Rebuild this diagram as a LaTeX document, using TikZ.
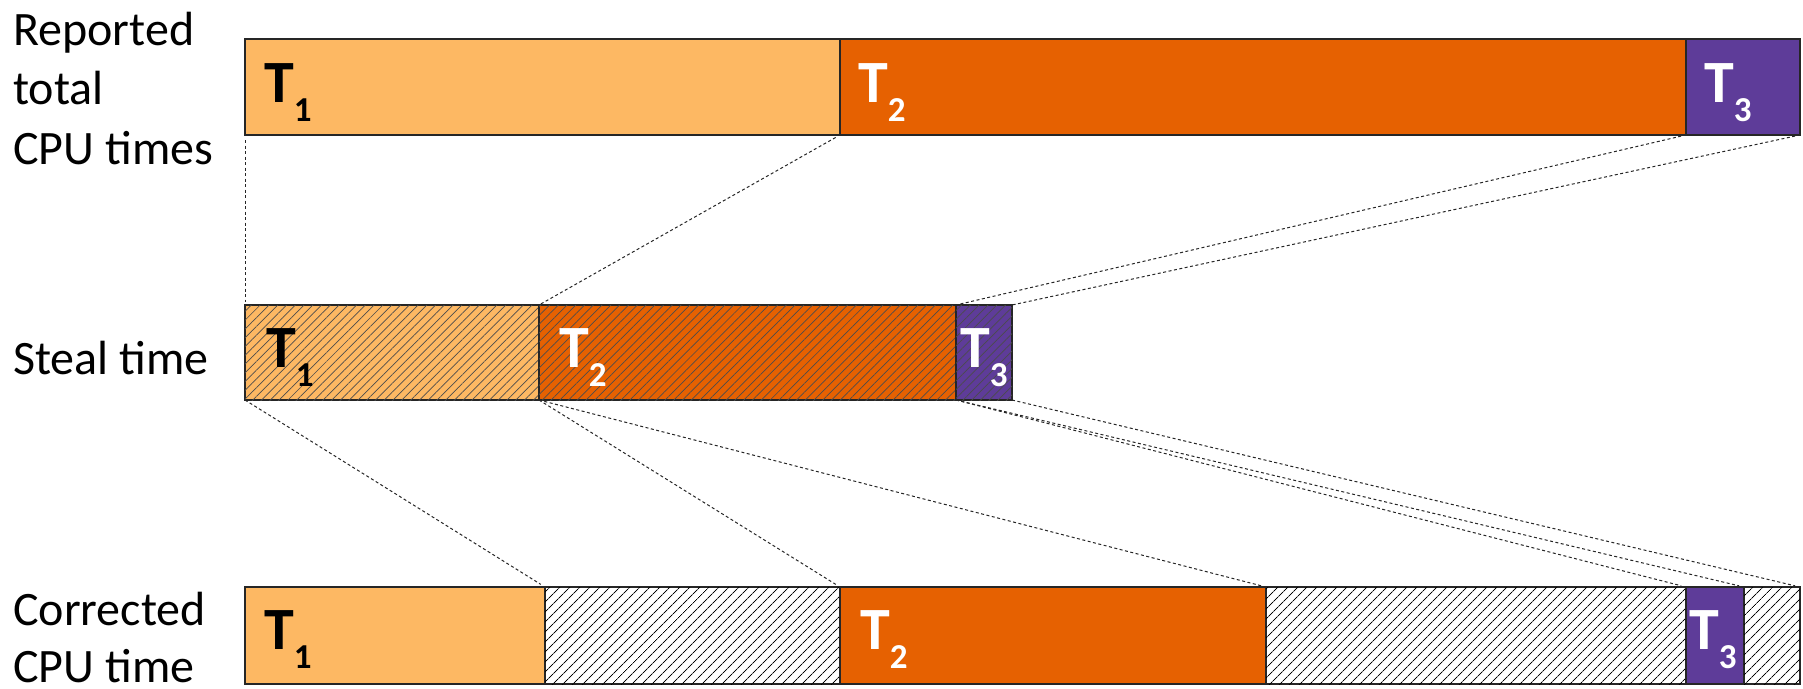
\documentclass[tikz,border=0pt]{standalone}
\usepackage{fontspec}
\setmainfont{Carlito}
\usetikzlibrary{patterns.meta}
\definecolor{cT1}{HTML}{FDB863}
\definecolor{cT2}{HTML}{E66101}
\definecolor{cT3}{HTML}{5E3C99}
\tikzset{
  seg/.style={draw=black!85, line width=1.2pt, anchor=north west, inner sep=0pt, outer sep=0pt},
  stealhatch/.style={postaction={pattern={Lines[angle=45,distance=6.2pt,line width=0.7pt]}, pattern color=black!70}},
  gaphatch/.style={fill=white, postaction={pattern={Lines[angle=45,distance=7.4pt,line width=1pt]}, pattern color=black}},
  tlab/.style={anchor=base west, inner sep=0pt, font=\bfseries\fontsize{60}{60}\selectfont},
  rowlab/.style={anchor=base west, inner sep=0pt, font=\fontsize{48}{59.5}\selectfont},
  link/.style={draw=black!85, line width=1pt, dash pattern=on 3pt off 2.5pt}
}
\newcommand{\tsub}[1]{T\raisebox{-19.5pt}{\fontsize{35}{35}\selectfont #1}}
\begin{document}
\begin{tikzpicture}[x=1pt,y=-1pt]
\useasboundingbox (0,0) rectangle (1803,688);

% row labels
\node[rowlab] (l1a) at (13,45) {Reported};
\node[rowlab] (l1b) at (13,104.5) {total};
\node[rowlab] (l1c) at (13,164) {CPU times};
\node[rowlab] (l2) at (13,374) {Steal time};
\node[rowlab] (l3a) at (13,625) {Corrected};
\node[rowlab] (l3b) at (13,682) {CPU time};

% reported row
\node[seg, fill=cT1, minimum width=595pt, minimum height=96pt] (r1) at (245,39) {};
\node[seg, fill=cT2, minimum width=846pt, minimum height=96pt] (r2) at (840,39) {};
\node[seg, fill=cT3, minimum width=114pt, minimum height=96pt] (r3) at (1686,39) {};

% steal row
\node[seg, fill=cT1, stealhatch, minimum width=294pt, minimum height=95pt] (s1) at (245,305) {};
\node[seg, fill=cT2, stealhatch, minimum width=417pt, minimum height=95pt] (s2) at (539,305) {};
\node[seg, fill=cT3, stealhatch, minimum width=56pt, minimum height=95pt] (s3) at (956,305) {};

% corrected row
\node[seg, fill=cT1, minimum width=300pt, minimum height=97pt] (c1) at (245,587) {};
\node[seg, gaphatch, minimum width=295pt, minimum height=97pt] (h1) at (545,587) {};
\node[seg, fill=cT2, minimum width=426pt, minimum height=97pt] (c2) at (840,587) {};
\node[seg, gaphatch, minimum width=420pt, minimum height=97pt] (h2) at (1266,587) {};
\node[seg, fill=cT3, minimum width=58pt, minimum height=97pt] (c3) at (1686,587) {};
\node[seg, gaphatch, minimum width=56pt, minimum height=97pt] (h3) at (1744,587) {};

% T labels
\node[tlab, text=black] (tr1) at ([xshift=19pt,yshift=-63pt]r1.north west) {\tsub{1}};
\node[tlab, text=white] (tr2) at ([xshift=18pt,yshift=-63pt]r2.north west) {\tsub{2}};
\node[tlab, text=white] (tr3) at ([xshift=18pt,yshift=-63pt]r3.north west) {\tsub{3}};
\node[tlab, text=black] (ts1) at ([xshift=21pt,yshift=-62pt]s1.north west) {\tsub{1}};
\node[tlab, text=white] (ts2) at ([xshift=20pt,yshift=-62pt]s2.north west) {\tsub{2}};
\node[tlab, text=white] (ts3) at ([xshift=4pt,yshift=-62pt]s3.north west) {\tsub{3}};
\node[tlab, text=black] (tc1) at ([xshift=19pt,yshift=-62pt]c1.north west) {\tsub{1}};
\node[tlab, text=white] (tc2) at ([xshift=20pt,yshift=-62pt]c2.north west) {\tsub{2}};
\node[tlab, text=white] (tc3) at ([xshift=3pt,yshift=-62pt]c3.north west) {\tsub{3}};

% connectors reported -> steal
\draw[link, shorten <=5pt, shorten >=3pt] (r1.south west) -- (s1.north west);
\draw[link, shorten <=5pt] (r2.south west) -- (s2.north west);
\draw[link, shorten <=5pt] (r3.south west) -- (s3.north west);
\draw[link, shorten <=5pt] (r3.south east) -- (s3.north east);

% connectors steal -> corrected
\draw[link, shorten >=5pt] (s1.south west) -- (h1.north west);
\draw[link, shorten >=5pt] (s2.south west) -- (h1.north east);
\draw[link, shorten >=5pt] (s2.south west) -- (h2.north west);
\draw[link, shorten >=5pt] (s3.south west) -- (h2.north east);
\draw[link, shorten >=5pt] (s3.south west) -- (h3.north west);
\draw[link, shorten >=5pt] (s3.south east) -- (h3.north east);
\end{tikzpicture}
\end{document}
